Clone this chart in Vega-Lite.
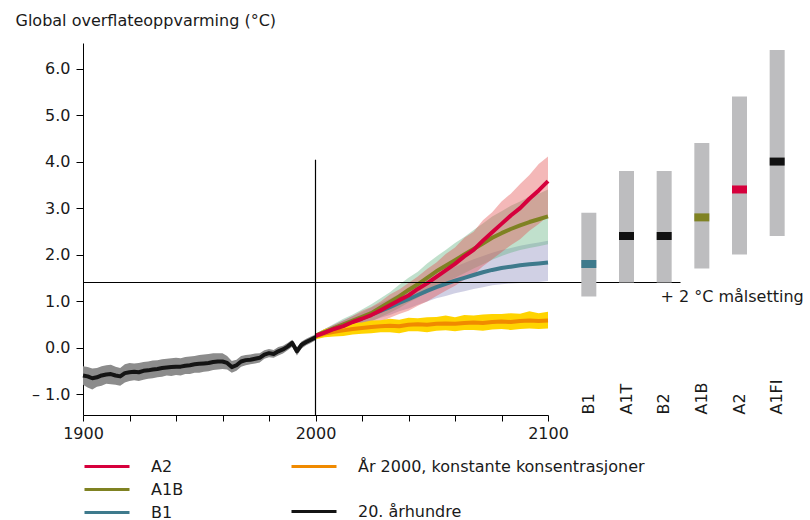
{
"$schema": "https://vega.github.io/schema/vega-lite/v6.json",
"width": 722, "height": 372,
"autosize": {"type": "none"},
"padding": {"left": 83, "top": 43, "right": 5, "bottom": 105},
"background": "white",
"config": {
 "font": "DejaVu Sans",
 "view": {"stroke": null},
 "axis": {"grid": false, "domainColor": "#000000", "tickColor": "#000000", "labelColor": "#1a1a1a", "labelFontSize": 16, "titleFontSize": 16, "titleFontWeight": "normal", "titleColor": "#1a1a1a", "labelFont": "DejaVu Sans", "titleFont": "DejaVu Sans"},
 "legend": {"orient": "none", "labelFontSize": 16, "labelFont": "DejaVu Sans", "labelColor": "#1a1a1a", "symbolType": "M-2.5,0H2.5", "symbolSize": 324, "symbolStrokeWidth": 3, "labelOffset": 33.5, "title": null, "padding": 0, "labelLimit": 500}
},
"datasets": {
 "hist": [
  {"year":1900,"mean":-0.60,"lo":-0.80,"hi":-0.40},
  {"year":1902,"mean":-0.62,"lo":-0.86,"hi":-0.42},
  {"year":1904,"mean":-0.66,"lo":-0.90,"hi":-0.45},
  {"year":1906,"mean":-0.64,"lo":-0.84,"hi":-0.44},
  {"year":1908,"mean":-0.60,"lo":-0.82,"hi":-0.40},
  {"year":1910,"mean":-0.58,"lo":-0.78,"hi":-0.38},
  {"year":1912,"mean":-0.57,"lo":-0.79,"hi":-0.37},
  {"year":1914,"mean":-0.60,"lo":-0.80,"hi":-0.41},
  {"year":1916,"mean":-0.62,"lo":-0.82,"hi":-0.44},
  {"year":1918,"mean":-0.55,"lo":-0.75,"hi":-0.36},
  {"year":1920,"mean":-0.53,"lo":-0.72,"hi":-0.33},
  {"year":1922,"mean":-0.52,"lo":-0.70,"hi":-0.34},
  {"year":1924,"mean":-0.53,"lo":-0.72,"hi":-0.33},
  {"year":1926,"mean":-0.50,"lo":-0.69,"hi":-0.31},
  {"year":1928,"mean":-0.49,"lo":-0.67,"hi":-0.30},
  {"year":1930,"mean":-0.47,"lo":-0.66,"hi":-0.28},
  {"year":1932,"mean":-0.46,"lo":-0.64,"hi":-0.27},
  {"year":1934,"mean":-0.44,"lo":-0.63,"hi":-0.25},
  {"year":1936,"mean":-0.43,"lo":-0.60,"hi":-0.24},
  {"year":1938,"mean":-0.42,"lo":-0.61,"hi":-0.23},
  {"year":1940,"mean":-0.41,"lo":-0.59,"hi":-0.22},
  {"year":1942,"mean":-0.41,"lo":-0.60,"hi":-0.23},
  {"year":1944,"mean":-0.39,"lo":-0.57,"hi":-0.20},
  {"year":1946,"mean":-0.38,"lo":-0.57,"hi":-0.19},
  {"year":1948,"mean":-0.36,"lo":-0.54,"hi":-0.18},
  {"year":1950,"mean":-0.35,"lo":-0.54,"hi":-0.16},
  {"year":1952,"mean":-0.34,"lo":-0.52,"hi":-0.15},
  {"year":1954,"mean":-0.33,"lo":-0.51,"hi":-0.14},
  {"year":1956,"mean":-0.31,"lo":-0.48,"hi":-0.12},
  {"year":1958,"mean":-0.30,"lo":-0.47,"hi":-0.12},
  {"year":1960,"mean":-0.30,"lo":-0.46,"hi":-0.12},
  {"year":1962,"mean":-0.33,"lo":-0.47,"hi":-0.18},
  {"year":1964,"mean":-0.42,"lo":-0.54,"hi":-0.29},
  {"year":1966,"mean":-0.38,"lo":-0.50,"hi":-0.26},
  {"year":1968,"mean":-0.30,"lo":-0.41,"hi":-0.18},
  {"year":1970,"mean":-0.27,"lo":-0.38,"hi":-0.16},
  {"year":1972,"mean":-0.26,"lo":-0.36,"hi":-0.15},
  {"year":1974,"mean":-0.24,"lo":-0.34,"hi":-0.13},
  {"year":1976,"mean":-0.22,"lo":-0.32,"hi":-0.12},
  {"year":1978,"mean":-0.15,"lo":-0.24,"hi":-0.06},
  {"year":1980,"mean":-0.12,"lo":-0.21,"hi":-0.03},
  {"year":1982,"mean":-0.14,"lo":-0.22,"hi":-0.05},
  {"year":1984,"mean":-0.08,"lo":-0.17,"hi":0.01},
  {"year":1986,"mean":-0.04,"lo":-0.13,"hi":0.04},
  {"year":1988,"mean":0.02,"lo":-0.06,"hi":0.10},
  {"year":1990,"mean":0.10,"lo":0.02,"hi":0.17},
  {"year":1992,"mean":-0.08,"lo":-0.17,"hi":0.00},
  {"year":1994,"mean":0.06,"lo":-0.02,"hi":0.13},
  {"year":1996,"mean":0.12,"lo":0.05,"hi":0.19},
  {"year":1998,"mean":0.17,"lo":0.10,"hi":0.24},
  {"year":2000,"mean":0.22,"lo":0.16,"hi":0.28}
 ],
 "proj": [
  {"series":"År 2000, konstante konsentrasjoner","year":2000,"mean":0.24,"lo":0.18,"hi":0.30},
  {"series":"År 2000, konstante konsentrasjoner","year":2004,"mean":0.30,"lo":0.22,"hi":0.40},
  {"series":"År 2000, konstante konsentrasjoner","year":2008,"mean":0.34,"lo":0.24,"hi":0.45},
  {"series":"År 2000, konstante konsentrasjoner","year":2012,"mean":0.37,"lo":0.25,"hi":0.47},
  {"series":"År 2000, konstante konsentrasjoner","year":2016,"mean":0.40,"lo":0.28,"hi":0.53},
  {"series":"År 2000, konstante konsentrasjoner","year":2020,"mean":0.42,"lo":0.30,"hi":0.54},
  {"series":"År 2000, konstante konsentrasjoner","year":2024,"mean":0.44,"lo":0.31,"hi":0.58},
  {"series":"År 2000, konstante konsentrasjoner","year":2028,"mean":0.46,"lo":0.33,"hi":0.59},
  {"series":"År 2000, konstante konsentrasjoner","year":2032,"mean":0.47,"lo":0.33,"hi":0.62},
  {"series":"År 2000, konstante konsentrasjoner","year":2036,"mean":0.46,"lo":0.31,"hi":0.60},
  {"series":"År 2000, konstante konsentrasjoner","year":2040,"mean":0.49,"lo":0.35,"hi":0.64},
  {"series":"År 2000, konstante konsentrasjoner","year":2044,"mean":0.50,"lo":0.35,"hi":0.63},
  {"series":"År 2000, konstante konsentrasjoner","year":2048,"mean":0.49,"lo":0.33,"hi":0.65},
  {"series":"År 2000, konstante konsentrasjoner","year":2052,"mean":0.51,"lo":0.36,"hi":0.66},
  {"series":"År 2000, konstante konsentrasjoner","year":2056,"mean":0.52,"lo":0.37,"hi":0.69},
  {"series":"År 2000, konstante konsentrasjoner","year":2060,"mean":0.51,"lo":0.35,"hi":0.65},
  {"series":"År 2000, konstante konsentrasjoner","year":2064,"mean":0.53,"lo":0.38,"hi":0.70},
  {"series":"År 2000, konstante konsentrasjoner","year":2068,"mean":0.54,"lo":0.38,"hi":0.69},
  {"series":"År 2000, konstante konsentrasjoner","year":2072,"mean":0.53,"lo":0.36,"hi":0.71},
  {"series":"År 2000, konstante konsentrasjoner","year":2076,"mean":0.55,"lo":0.39,"hi":0.72},
  {"series":"År 2000, konstante konsentrasjoner","year":2080,"mean":0.56,"lo":0.40,"hi":0.72},
  {"series":"År 2000, konstante konsentrasjoner","year":2084,"mean":0.55,"lo":0.38,"hi":0.74},
  {"series":"År 2000, konstante konsentrasjoner","year":2088,"mean":0.57,"lo":0.40,"hi":0.73},
  {"series":"År 2000, konstante konsentrasjoner","year":2092,"mean":0.58,"lo":0.41,"hi":0.78},
  {"series":"År 2000, konstante konsentrasjoner","year":2096,"mean":0.57,"lo":0.40,"hi":0.74},
  {"series":"År 2000, konstante konsentrasjoner","year":2100,"mean":0.58,"lo":0.41,"hi":0.77},
  {"series":"B1","year":2000,"mean":0.25,"lo":0.20,"hi":0.30},
  {"series":"B1","year":2004,"mean":0.33,"lo":0.27,"hi":0.40},
  {"series":"B1","year":2008,"mean":0.41,"lo":0.33,"hi":0.49},
  {"series":"B1","year":2012,"mean":0.49,"lo":0.40,"hi":0.59},
  {"series":"B1","year":2016,"mean":0.56,"lo":0.45,"hi":0.68},
  {"series":"B1","year":2020,"mean":0.63,"lo":0.51,"hi":0.76},
  {"series":"B1","year":2024,"mean":0.71,"lo":0.57,"hi":0.86},
  {"series":"B1","year":2028,"mean":0.79,"lo":0.64,"hi":0.96},
  {"series":"B1","year":2032,"mean":0.87,"lo":0.70,"hi":1.05},
  {"series":"B1","year":2036,"mean":0.96,"lo":0.78,"hi":1.16},
  {"series":"B1","year":2040,"mean":1.04,"lo":0.84,"hi":1.26},
  {"series":"B1","year":2044,"mean":1.13,"lo":0.92,"hi":1.37},
  {"series":"B1","year":2048,"mean":1.22,"lo":0.99,"hi":1.47},
  {"series":"B1","year":2052,"mean":1.30,"lo":1.06,"hi":1.57},
  {"series":"B1","year":2056,"mean":1.37,"lo":1.11,"hi":1.66},
  {"series":"B1","year":2060,"mean":1.44,"lo":1.17,"hi":1.74},
  {"series":"B1","year":2064,"mean":1.50,"lo":1.21,"hi":1.82},
  {"series":"B1","year":2068,"mean":1.56,"lo":1.26,"hi":1.90},
  {"series":"B1","year":2072,"mean":1.62,"lo":1.30,"hi":1.97},
  {"series":"B1","year":2076,"mean":1.67,"lo":1.34,"hi":2.04},
  {"series":"B1","year":2080,"mean":1.71,"lo":1.36,"hi":2.10},
  {"series":"B1","year":2084,"mean":1.74,"lo":1.38,"hi":2.14},
  {"series":"B1","year":2088,"mean":1.77,"lo":1.39,"hi":2.19},
  {"series":"B1","year":2092,"mean":1.79,"lo":1.40,"hi":2.23},
  {"series":"B1","year":2096,"mean":1.81,"lo":1.41,"hi":2.26},
  {"series":"B1","year":2100,"mean":1.83,"lo":1.43,"hi":2.30},
  {"series":"A1B","year":2000,"mean":0.25,"lo":0.20,"hi":0.30},
  {"series":"A1B","year":2004,"mean":0.33,"lo":0.26,"hi":0.40},
  {"series":"A1B","year":2008,"mean":0.42,"lo":0.33,"hi":0.51},
  {"series":"A1B","year":2012,"mean":0.50,"lo":0.38,"hi":0.62},
  {"series":"A1B","year":2016,"mean":0.58,"lo":0.44,"hi":0.71},
  {"series":"A1B","year":2020,"mean":0.66,"lo":0.50,"hi":0.82},
  {"series":"A1B","year":2024,"mean":0.74,"lo":0.56,"hi":0.93},
  {"series":"A1B","year":2028,"mean":0.86,"lo":0.66,"hi":1.06},
  {"series":"A1B","year":2032,"mean":0.98,"lo":0.75,"hi":1.19},
  {"series":"A1B","year":2036,"mean":1.10,"lo":0.85,"hi":1.35},
  {"series":"A1B","year":2040,"mean":1.24,"lo":0.97,"hi":1.50},
  {"series":"A1B","year":2044,"mean":1.36,"lo":1.07,"hi":1.63},
  {"series":"A1B","year":2048,"mean":1.50,"lo":1.19,"hi":1.81},
  {"series":"A1B","year":2052,"mean":1.64,"lo":1.30,"hi":1.96},
  {"series":"A1B","year":2056,"mean":1.76,"lo":1.40,"hi":2.10},
  {"series":"A1B","year":2060,"mean":1.88,"lo":1.50,"hi":2.25},
  {"series":"A1B","year":2064,"mean":2.00,"lo":1.60,"hi":2.38},
  {"series":"A1B","year":2068,"mean":2.12,"lo":1.70,"hi":2.53},
  {"series":"A1B","year":2072,"mean":2.24,"lo":1.79,"hi":2.67},
  {"series":"A1B","year":2076,"mean":2.36,"lo":1.89,"hi":2.82},
  {"series":"A1B","year":2080,"mean":2.46,"lo":1.97,"hi":2.93},
  {"series":"A1B","year":2084,"mean":2.55,"lo":2.04,"hi":3.05},
  {"series":"A1B","year":2088,"mean":2.63,"lo":2.10,"hi":3.14},
  {"series":"A1B","year":2092,"mean":2.70,"lo":2.14,"hi":3.25},
  {"series":"A1B","year":2096,"mean":2.76,"lo":2.18,"hi":3.31},
  {"series":"A1B","year":2100,"mean":2.82,"lo":2.22,"hi":3.40},
  {"series":"A2","year":2000,"mean":0.25,"lo":0.20,"hi":0.30},
  {"series":"A2","year":2004,"mean":0.32,"lo":0.24,"hi":0.40},
  {"series":"A2","year":2008,"mean":0.40,"lo":0.29,"hi":0.49},
  {"series":"A2","year":2012,"mean":0.46,"lo":0.33,"hi":0.58},
  {"series":"A2","year":2016,"mean":0.55,"lo":0.39,"hi":0.68},
  {"series":"A2","year":2020,"mean":0.62,"lo":0.43,"hi":0.79},
  {"series":"A2","year":2024,"mean":0.70,"lo":0.48,"hi":0.87},
  {"series":"A2","year":2028,"mean":0.80,"lo":0.55,"hi":0.99},
  {"series":"A2","year":2032,"mean":0.91,"lo":0.64,"hi":1.14},
  {"series":"A2","year":2036,"mean":1.02,"lo":0.72,"hi":1.25},
  {"series":"A2","year":2040,"mean":1.12,"lo":0.79,"hi":1.39},
  {"series":"A2","year":2044,"mean":1.26,"lo":0.90,"hi":1.53},
  {"series":"A2","year":2048,"mean":1.38,"lo":0.99,"hi":1.69},
  {"series":"A2","year":2052,"mean":1.52,"lo":1.11,"hi":1.83},
  {"series":"A2","year":2056,"mean":1.66,"lo":1.22,"hi":2.01},
  {"series":"A2","year":2060,"mean":1.80,"lo":1.33,"hi":2.15},
  {"series":"A2","year":2064,"mean":1.96,"lo":1.46,"hi":2.36},
  {"series":"A2","year":2068,"mean":2.10,"lo":1.57,"hi":2.49},
  {"series":"A2","year":2072,"mean":2.30,"lo":1.75,"hi":2.74},
  {"series":"A2","year":2076,"mean":2.48,"lo":1.90,"hi":2.91},
  {"series":"A2","year":2080,"mean":2.66,"lo":2.05,"hi":3.14},
  {"series":"A2","year":2084,"mean":2.84,"lo":2.20,"hi":3.31},
  {"series":"A2","year":2088,"mean":3.00,"lo":2.33,"hi":3.52},
  {"series":"A2","year":2092,"mean":3.20,"lo":2.51,"hi":3.71},
  {"series":"A2","year":2096,"mean":3.38,"lo":2.66,"hi":3.95},
  {"series":"A2","year":2100,"mean":3.58,"lo":2.83,"hi":4.11}
 ],
 "bars": [
  {"scenario":"B1","lo":1.1,"hi":2.9,"best":1.8},
  {"scenario":"A1T","lo":1.4,"hi":3.8,"best":2.4},
  {"scenario":"B2","lo":1.4,"hi":3.8,"best":2.4},
  {"scenario":"A1B","lo":1.7,"hi":4.4,"best":2.8},
  {"scenario":"A2","lo":2.0,"hi":5.4,"best":3.4},
  {"scenario":"A1FI","lo":2.4,"hi":6.4,"best":4.0}
 ],
 "target": [
  {"label":"+ 2 °C målsetting"}
 ]
},
"layer": [
 {
  "layer": [
   {
    "data": {"name": "hist"},
    "mark": {"type": "area", "color": "#8c8c8c", "opacity": 1},
    "encoding": {
     "x": {"field": "year", "type": "quantitative", "scale": {"domain": [1900, 2100], "range": [0, 465], "nice": false, "zero": false},
      "axis": {"orient": "bottom", "values": [1900,1920,1940,1960,1980,2000,2020,2040,2060,2080,2100], "format": "d", "labelExpr": "datum.value % 100 === 0 ? datum.label : ''", "tickSize": 6, "labelPadding": 4, "title": null, "labelFlush": false, "labelOverlap": false}},
     "y": {"field": "lo", "type": "quantitative", "scale": {"domain": [-1.45, 6.55], "nice": false, "zero": false},
      "axis": {"values": [-1,0,1,2,3,4,5,6], "labelExpr": "datum.value < 0 ? '– ' + format(-datum.value, '.1f') : format(datum.value, '.1f')", "tickSize": 7, "labelPadding": 6, "title": "Global overflateoppvarming (°C)", "titleAngle": 0, "titleX": -68, "titleY": -23, "titleAlign": "left", "titleBaseline": "middle"}},
     "y2": {"field": "hi"}
    }
   },
   {
    "data": {"name": "proj"},
    "transform": [{"filter": "datum.series !== 'År 2000, konstante konsentrasjoner'"}],
    "mark": {"type": "area", "opacity": 0.4},
    "encoding": {
     "x": {"field": "year", "type": "quantitative"},
     "y": {"field": "lo", "type": "quantitative"},
     "y2": {"field": "hi"},
     "fill": {"field": "series", "type": "nominal", "scale": {"domain": ["A2", "A1B", "B1"], "range": ["#e34e4e", "#62b280", "#8a8abc"]}, "legend": null}
    }
   },
   {
    "data": {"name": "proj"},
    "transform": [{"filter": "datum.series === 'År 2000, konstante konsentrasjoner'"}],
    "mark": {"type": "area", "color": "#ffd400", "opacity": 1},
    "encoding": {
     "x": {"field": "year", "type": "quantitative"},
     "y": {"field": "lo", "type": "quantitative"},
     "y2": {"field": "hi"}
    }
   },
   {
    "data": {"name": "hist"},
    "mark": {"type": "line", "strokeWidth": 4, "strokeJoin": "round"},
    "encoding": {
     "x": {"field": "year", "type": "quantitative"},
     "y": {"field": "mean", "type": "quantitative"},
     "color": {"datum": "20. århundre",
      "scale": {"domain": ["År 2000, konstante konsentrasjoner", "20. århundre"], "range": ["#f08a00", "#141414"]},
      "legend": {"legendX": 220.5, "legendY": 413, "rowPadding": 26}}
    }
   },
   {
    "data": {"name": "proj"},
    "transform": [{"filter": "datum.series === 'År 2000, konstante konsentrasjoner'"}],
    "mark": {"type": "line", "strokeWidth": 4, "strokeJoin": "round"},
    "encoding": {
     "x": {"field": "year", "type": "quantitative"},
     "y": {"field": "mean", "type": "quantitative"},
     "color": {"field": "series", "type": "nominal"}
    }
   },
   {
    "data": {"name": "proj"},
    "transform": [{"filter": "datum.series !== 'År 2000, konstante konsentrasjoner'"}],
    "mark": {"type": "line", "strokeWidth": 4, "strokeJoin": "round"},
    "encoding": {
     "x": {"field": "year", "type": "quantitative"},
     "y": {"field": "mean", "type": "quantitative"},
     "stroke": {"field": "series", "type": "nominal",
      "scale": {"domain": ["A2", "A1B", "B1"], "range": ["#d6003c", "#7f8222", "#3e7a8c"]},
      "legend": {"legendX": 13.5, "legendY": 413, "rowPadding": 4}}
    }
   },
   {
    "data": {"values": [{}]},
    "mark": {"type": "rule", "color": "#000000", "strokeWidth": 1.2},
    "encoding": {
     "x": {"datum": 1900, "type": "quantitative"},
     "x2": {"datum": 2157},
     "y": {"datum": 1.4, "type": "quantitative"}
    }
   },
   {
    "data": {"values": [{}]},
    "mark": {"type": "rule", "color": "#000000", "strokeWidth": 1.2},
    "encoding": {
     "x": {"datum": 2000, "type": "quantitative"},
     "y": {"datum": 4.04, "type": "quantitative"},
     "y2": {"datum": -1.45}
    }
   },
   {
    "data": {"name": "target"},
    "mark": {"type": "text", "align": "right", "baseline": "middle", "fontSize": 16, "font": "DejaVu Sans", "color": "#1a1a1a"},
    "encoding": {
     "x": {"datum": 2210, "type": "quantitative"},
     "y": {"datum": 1.08, "type": "quantitative"},
     "text": {"field": "label"}
    }
   }
  ]
 },
 {
  "data": {"name": "bars"},
  "layer": [
   {
    "mark": {"type": "bar", "width": 15, "color": "#bdbdbf"},
    "encoding": {
     "x": {"field": "scenario", "type": "nominal", "sort": null,
      "scale": {"domain": ["B1", "A1T", "B2", "A1B", "A2", "A1FI"], "range": [487, 713], "paddingInner": 0, "paddingOuter": 0},
      "axis": {"orient": "bottom", "domain": false, "ticks": false, "tickSize": 0, "labelAngle": 270, "labelAlign": "left", "labelBaseline": "middle", "labelPadding": -1, "title": null, "labelFontSize": 16}},
     "y": {"field": "lo", "type": "quantitative"},
     "y2": {"field": "hi"}
    }
   },
   {
    "mark": {"type": "tick", "size": 15, "thickness": 8, "orient": "horizontal", "opacity": 1},
    "encoding": {
     "x": {"field": "scenario", "type": "nominal", "sort": null},
     "y": {"field": "best", "type": "quantitative"},
     "color": {"field": "scenario", "type": "nominal", "scale": {"domain": ["B1", "A1T", "B2", "A1B", "A2", "A1FI"], "range": ["#3e7a8c", "#111111", "#111111", "#7f8222", "#d6003c", "#111111"]}, "legend": null}
    }
   }
  ]
 }
],
"resolve": {"scale": {"x": "independent", "color": "independent", "fill": "independent"}}
}
